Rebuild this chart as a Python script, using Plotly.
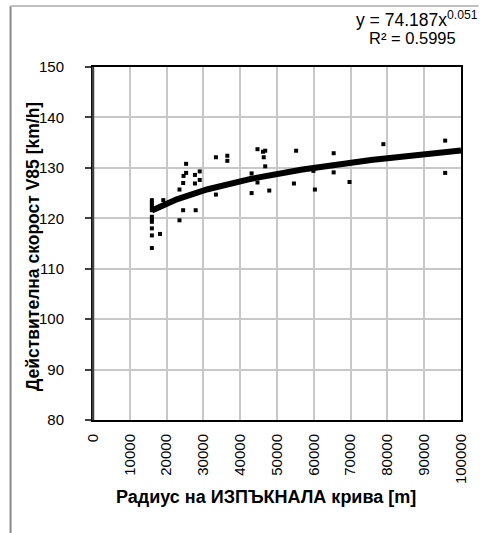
import numpy as np
import plotly.graph_objects as go

# Observed curves: radius of the convex vertical curve [m] and measured V85 [km/h]
radius_m = [
    16000, 16000, 16000, 16000, 16000, 16000, 16000, 16000, 16000, 16000, 16000,
    18200, 19100, 23500, 23500, 24500, 24500, 24600, 25300, 25300,
    27700, 27700, 27900, 29000, 29000, 33400, 33400, 36500, 36500,
    43100, 43100, 44700, 44700, 46200, 46800, 46800, 46400, 47900,
    55200, 54600, 59900, 60300, 65400, 65400, 69700, 78900, 95700, 95700,
]
speed_v85 = [
    123.6, 123.1, 122.6, 122.1, 121.6, 120.3, 119.8, 119.3, 118.0, 116.6, 114.1,
    116.9, 123.6, 125.7, 119.6, 121.6, 127.0, 128.4, 129.0, 130.8,
    128.6, 126.9, 121.6, 129.3, 127.6, 132.1, 124.7, 132.4, 131.4,
    128.9, 125.0, 133.7, 127.1, 133.2, 133.4, 130.3, 132.1, 125.5,
    133.4, 126.9, 129.4, 125.7, 132.9, 129.1, 127.2, 134.7, 135.4, 129.0,
]

# Power trendline y = a * x^b
fit_a = 74.187
fit_b = 0.051
fit_r2 = 0.5995

x_range = [0, 100000]
y_range = [80, 150]
x_ticks = list(range(0, 100001, 10000))
y_ticks = list(range(80, 151, 10))

x_title = "Радиус на ИЗПЪКНАЛА крива [m]"
y_title = "Действителна скорост V85 [km/h]"

W, H = 481, 533
ML, MR, MT, MB = 93, 13, 67, 113
PW, PH = W - ML - MR, H - MT - MB


def px_x(p):
    return (p - ML) / PW


def px_y(p):
    return (H - MB - p) / PH


font = "Liberation Sans, Arial, sans-serif"

fit_x = np.linspace(min(radius_m), x_range[1], 200)
fit_y = fit_a * fit_x ** fit_b

fig = go.Figure()
fig.add_trace(go.Scatter(
    x=fit_x, y=fit_y, mode="lines",
    line=dict(color="black", width=6), hoverinfo="skip",
))
fig.add_trace(go.Scatter(
    x=radius_m, y=speed_v85, mode="markers",
    marker=dict(symbol="square", size=4, color="black", line=dict(width=0)),
))

fig.update_layout(
    width=W, height=H,
    margin=dict(l=ML, r=MR, t=MT, b=MB),
    paper_bgcolor="white", plot_bgcolor="white",
    showlegend=False,
    font=dict(family=font, size=15, color="black"),
    xaxis=dict(
        range=x_range, tickvals=x_ticks, ticktext=[str(v) for v in x_ticks],
        tickangle=-90, ticks="", ticklabelstandoff=6,
        tickfont=dict(size=15),
        showgrid=True, gridcolor="#c8c8c8", gridwidth=1.5,
        showline=True, linecolor="black", linewidth=2, mirror=True,
        zeroline=False, fixedrange=True,
    ),
    yaxis=dict(
        range=y_range, tickvals=y_ticks,
        ticks="outside", ticklen=6, tickcolor="#404040", tickwidth=1.5,
        ticklabelstandoff=18, tickfont=dict(size=15),
        showgrid=True, gridcolor="#c8c8c8", gridwidth=1.5,
        showline=True, linecolor="black", linewidth=2, mirror=True,
        zeroline=False, fixedrange=True,
    ),
    shapes=[
        # outer chart frame (left and top edges)
        dict(type="line", xref="paper", yref="paper",
             x0=px_x(9), x1=px_x(9), y0=px_y(6), y1=px_y(H + 5),
             line=dict(color="#8a8a8a", width=2)),
        dict(type="line", xref="paper", yref="paper",
             x0=px_x(9), x1=px_x(W + 5), y0=px_y(6), y1=px_y(6),
             line=dict(color="#c0c0c0", width=2)),
        # darker value axis line
        dict(type="line", xref="paper", yref="paper",
             x0=0, x1=0, y0=0, y1=1,
             line=dict(color="#404040", width=2.5)),
    ],
    annotations=[
        dict(text=f"<b>{x_title}</b>", xref="paper", yref="paper",
             x=px_x(269), y=px_y(497), xanchor="center", yanchor="middle",
             showarrow=False, font=dict(size=18)),
        dict(text=f"<b>{y_title}</b>", xref="paper", yref="paper",
             x=px_x(32), y=px_y(247), xanchor="center", yanchor="middle",
             textangle=-90, showarrow=False, font=dict(size=17.5)),
        dict(text=f"y = {fit_a}x<sup>{fit_b}</sup>", xref="paper", yref="paper",
             x=px_x(359), y=px_y(19), xanchor="left", yanchor="middle",
             showarrow=False, font=dict(size=17.5)),
        dict(text=f"R² = {fit_r2}", xref="paper", yref="paper",
             x=px_x(465), y=px_y(38), xanchor="right", yanchor="middle",
             showarrow=False, font=dict(size=16.5)),
    ],
)

fig.write_html("out.html")
